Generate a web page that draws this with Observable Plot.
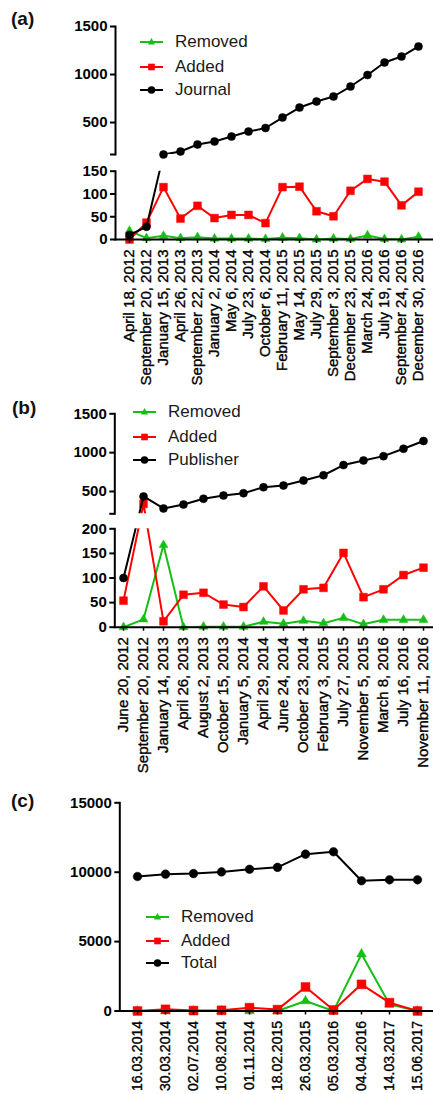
<!DOCTYPE html>
<html><head><meta charset="utf-8">
<script src="https://cdn.jsdelivr.net/npm/d3@7"></script>
<script src="https://cdn.jsdelivr.net/npm/@observablehq/plot@0.6"></script>
<style>
body{margin:0;background:#fff;}
#chart{position:relative;width:433px;height:1094px;overflow:hidden;font-family:'Liberation Sans',Arial,Helvetica,sans-serif;background:#fff;}
.lab{position:absolute;font-weight:bold;font-size:19px;line-height:19px;color:#111;}
.leg{position:absolute;font-size:17px;line-height:20px;color:#1a1a1a;white-space:nowrap;}
.glyph{position:absolute;}
</style></head><body><div id="chart"></div>
<script>
// ---------- data ----------
const aDates = ["April 18, 2012","September 20, 2012","January 15, 2013","April 26, 2013","September 22, 2013","January 2, 2014","May 6, 2014","July 23, 2014","October 6, 2014","February 11, 2015","May 14, 2015","July 29, 2015","September 3, 2015","December 23, 2015","March 24, 2016","July 19, 2016","September 24, 2016","December 30, 2016"];
const aJournal = [10, 28, 167, 198, 271, 302, 354, 406, 443, 552, 656, 719, 771, 875, 995, 1125, 1187, 1292];
const aAdded   = [0, 37, 115, 46, 74, 47, 54, 54, 36, 115, 116, 62, 51, 107, 133, 127, 75, 105];
const aRemoved = [19, 3, 8, 3, 5, 2, 2, 2, 1, 4, 3, 0, 2, 1, 9, 1, 0, 6];

const bDates = ["June 20, 2012","September 20, 2012","January 14, 2013","April 26, 2013","August 2, 2013","October 15, 2013","January 5, 2014","April 29, 2014","June 24, 2014","October 23, 2014","February 3, 2015","July 27, 2015","November 5, 2015","March 8, 2016","July 16, 2016","November 11, 2016"];
const bPublisher = [100, 436, 282, 333, 407, 449, 478, 555, 577, 641, 709, 840, 900, 955, 1050, 1150];
const bAdded     = [54, 340, 12, 66, 70, 46, 41, 83, 34, 77, 80, 151, 61, 77, 106, 121];
const bRemoved   = [0, 16, 167, 0, 1, 1, 1, 11, 7, 13, 8, 19, 6, 15, 15, 15];

const cDates = ["16.03.2014","30.03.2014","02.07.2014","10.08.2014","01.11.2014","18.02.2015","26.03.2015","05.03.2016","04.04.2016","14.03.2017","15.06.2017"];
const cTotal   = [9690, 9860, 9900, 10020, 10210, 10350, 11300, 11470, 9380, 9450, 9450];
const cAdded   = [0, 120, 30, 50, 240, 100, 1730, 70, 1920, 600, 0];
const cRemoved = [0, 0, 0, 0, 0, 0, 720, 0, 4100, 480, 0];

// tick values
const aUpperTicks = [500, 1000, 1500], aLowerTicks = [0, 50, 100, 150];
const bUpperTicks = [500, 1000, 1500], bLowerTicks = [0, 50, 100, 150, 200];
const cTicks = [0, 5000, 10000, 15000];

// ---------- style ----------
const W = 433, H = 1094;
const FONT = "'Liberation Sans', Arial, Helvetica, sans-serif";
const GREEN = "#14c014", RED = "#ff0000", BLACK = "#000000";
const chart = document.getElementById("chart");
const plain = d => String(d);

function addPlot(opts) {
  const svg = Plot.plot(Object.assign({width: W, height: H, style: {fontFamily: FONT, background: "transparent", overflow: "visible"}}, opts));
  svg.style.position = "absolute"; svg.style.left = "0px"; svg.style.top = "0px";
  // slightly heavier x tick labels, like the reference
  svg.querySelectorAll('g[aria-label="x-axis tick label"] text').forEach(t => {
    t.style.stroke = "currentColor"; t.style.strokeWidth = "0.35px";
  });
  chart.appendChild(svg);
}

function seriesMarks(dates, series, show) {
  const marks = [];
  for (const s of series) {
    const data = s.values.map((v, i) => ({d: dates[i], v}));
    marks.push(Plot.line(data, {x: "d", y: "v", stroke: s.color, strokeWidth: 2, clip: true}));
    marks.push(Plot.dot(data.filter(p => show(p.v)), {x: "d", y: "v", symbol: s.symbol, r: s.r, fill: s.color, stroke: s.color, strokeWidth: 0.5}));
  }
  return marks;
}

function segment({dates, series, xRange, yDomain, yRange, top, bottom, left, ticks, fmt, xAxis, xFont = 15, show}) {
  const marks = seriesMarks(dates, series, show);
  marks.push(Plot.axisY({ticks, tickFormat: fmt, tickSize: 5, tickPadding: 3, strokeWidth: 2, fontSize: 15, fontWeight: "bold", label: null}));
  marks.push(Plot.frame({anchor: "left", strokeWidth: 2}));
  if (xAxis) {
    marks.push(Plot.axisX({tickRotate: -90, tickSize: 4, tickPadding: 6, strokeWidth: 1.5, fontSize: xFont, label: null}));
    marks.push(Plot.frame({anchor: "bottom", strokeWidth: 2}));
  }
  addPlot({
    marginTop: top, marginBottom: H - bottom, marginLeft: left, marginRight: 0,
    x: {type: "point", domain: dates, range: xRange, padding: 0, axis: xAxis ? undefined : null},
    y: {type: "linear", domain: yDomain, range: yRange},
    marks
  });
}

function legend(items, x0, textX, ys) {
  items.forEach((it, k) => {
    const y = ys[k];
    const g = document.createElementNS("http://www.w3.org/2000/svg", "svg");
    const w = textX - x0 - 12;
    g.setAttribute("width", w + 2); g.setAttribute("height", 12);
    g.setAttribute("class", "glyph");
    g.style.left = x0 + "px"; g.style.top = (y - 6) + "px";
    const cx = w / 2;
    let shape;
    if (it.symbol === "triangle") shape = `<path d="M${cx},${6 - 4} L${cx + 3.6},${6 + 2.6} L${cx - 3.6},${6 + 2.6}Z" fill="${it.color}"/>`;
    else if (it.symbol === "square") shape = `<rect x="${cx - 3.3}" y="2.7" width="6.6" height="6.6" fill="${it.color}"/>`;
    else shape = `<circle cx="${cx}" cy="6" r="3.8" fill="${it.color}"/>`;
    g.innerHTML = `<line x1="0" x2="${w}" y1="6" y2="6" stroke="${it.color}" stroke-width="2"/>` + shape;
    chart.appendChild(g);
    const t = document.createElement("div");
    t.className = "leg"; t.textContent = it.name;
    t.style.left = textX + "px"; t.style.top = (y - 10) + "px";
    chart.appendChild(t);
  });
}
function panelLabel(text, x, y) {
  const d = document.createElement("div");
  d.className = "lab"; d.textContent = text;
  d.style.left = x + "px"; d.style.top = y + "px";
  chart.appendChild(d);
}

// ---------- panel (a) ----------
{
  const yDomain = [0, 150, 167, 1500], yRange = [239, 170.7, 154, 26];
  const series = [
    {name: "Removed", values: aRemoved, color: GREEN, symbol: "triangle", r: 3.3},
    {name: "Added", values: aAdded, color: RED, symbol: "square", r: 4.4},
    {name: "Journal", values: aJournal, color: BLACK, symbol: "circle", r: 4}
  ];
  const xRange = [122, 425];
  segment({dates: aDates, series, xRange, yDomain, yRange, top: 26, bottom: 154, left: 115,
    ticks: [167, ...aUpperTicks], fmt: d => d === 167 ? "" : plain(d), xAxis: false, show: v => v >= 167});
  segment({dates: aDates, series, xRange, yDomain, yRange, top: 170.7, bottom: 239, left: 115,
    ticks: aLowerTicks, fmt: plain, xAxis: true, show: v => v <= 150});
  legend(series, 140, 175, [42, 67, 90]);
  panelLabel("(a)", 11, 9);
}

// ---------- panel (b) ----------
{
  const yDomain = [0, 200, 213, 1500], yRange = [626.7, 528.3, 513.3, 413.3];
  const series = [
    {name: "Removed", values: bRemoved, color: GREEN, symbol: "triangle", r: 3.3},
    {name: "Added", values: bAdded, color: RED, symbol: "square", r: 4.4},
    {name: "Publisher", values: bPublisher, color: BLACK, symbol: "circle", r: 4}
  ];
  const xRange = [123.3, 423.3];
  segment({dates: bDates, series, xRange, yDomain, yRange, top: 413.3, bottom: 513.3, left: 114.3,
    ticks: [213, ...bUpperTicks], fmt: d => d === 213 ? "" : plain(d), xAxis: false, show: v => v >= 213});
  segment({dates: bDates, series, xRange, yDomain, yRange, top: 528.3, bottom: 626.7, left: 114.3,
    ticks: bLowerTicks, fmt: plain, xAxis: true, show: v => v <= 200});
  legend(series, 133, 168, [412.3, 436.7, 460]);
  panelLabel("(b)", 12, 398);
}

// ---------- panel (c) ----------
{
  const series = [
    {name: "Removed", values: cRemoved, color: GREEN, symbol: "triangle", r: 3.6},
    {name: "Added", values: cAdded, color: RED, symbol: "square", r: 5},
    {name: "Total", values: cTotal, color: BLACK, symbol: "circle", r: 4.3}
  ];
  segment({dates: cDates, series, xRange: [135, 419], yDomain: [0, 15000], yRange: [1010.5, 802.3],
    top: 802.3, bottom: 1010.5, left: 119.3, ticks: cTicks, fmt: plain, xAxis: true, xFont: 14, show: v => true});
  legend(series, 146, 181, [916.7, 940.7, 963.3]);
  panelLabel("(c)", 11, 791);
}
</script></body></html>
